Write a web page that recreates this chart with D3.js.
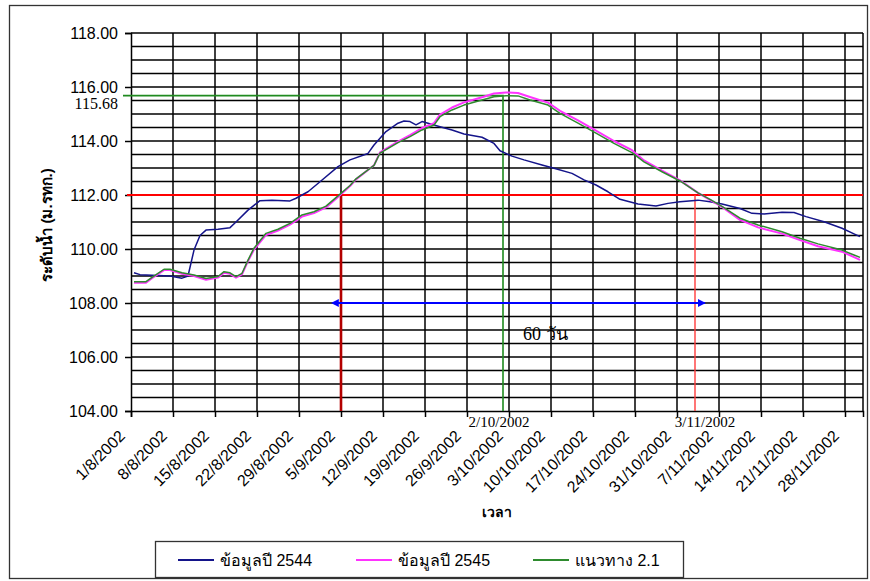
<!DOCTYPE html>
<html>
<head>
<meta charset="utf-8">
<script src="https://cdn.jsdelivr.net/npm/d3@7"></script>
<style>
  body { margin: 0; background: #fff; }
  svg { display: block; }
  .sans { font-family: "Liberation Sans", Arial, "Noto Sans", sans-serif; }
  .serif { font-family: "Liberation Serif", "Times New Roman", serif; }
</style>
</head>
<body>
<svg id="chart" width="870" height="581"></svg>
<script>
// Reservoir water level (m. MSL), 1 Aug – 30 Nov 2002

const xTickLabels = ["1/8/2002", "8/8/2002", "15/8/2002", "22/8/2002", "29/8/2002", "5/9/2002",
  "12/9/2002", "19/9/2002", "26/9/2002", "3/10/2002", "10/10/2002", "17/10/2002", "24/10/2002",
  "31/10/2002", "7/11/2002", "14/11/2002", "21/11/2002", "28/11/2002"];
const yTickValues = [104, 106, 108, 110, 112, 114, 116, 118];

// Series "ข้อมูลปี 2544"
const dates2544 = ["1/8", "2/8", "3/8", "5/8", "7/8", "9/8", "10/8", "11/8", "12/8", "13/8", "15/8", "17/8",
  "18/8", "20/8", "22/8", "24/8", "27/8", "28/8", "30/8", "1/9", "4/9", "6/9", "9/9", "10/9", "12/9",
  "14/9", "15/9", "16/9", "17/9", "18/9", "19/9", "21/9", "23/9", "25/9", "28/9", "30/9", "1/10", "3/10",
  "5/10", "8/10", "10/10", "13/10", "15/10", "17/10", "19/10", "21/10", "24/10", "27/10", "29/10",
  "31/10", "3/11", "5/11", "7/11", "10/11", "12/11", "14/11", "17/11", "19/11", "21/11", "24/11",
  "27/11", "29/11", "30/11"];
const level2544 = [109.12, 109.05, 109.04, 109.02, 109.00, 108.92, 109.00, 109.96, 110.50, 110.70, 110.73,
  110.79, 111.00, 111.44, 111.79, 111.81, 111.78, 111.88, 112.12, 112.49, 113.05, 113.30, 113.54, 113.85,
  114.35, 114.66, 114.74, 114.72, 114.60, 114.72, 114.66, 114.53, 114.41, 114.26, 114.14, 113.91, 113.64,
  113.44, 113.30, 113.11, 112.99, 112.80, 112.56, 112.37, 112.12, 111.84, 111.67, 111.59, 111.69, 111.75,
  111.81, 111.75, 111.67, 111.50, 111.32, 111.30, 111.36, 111.35, 111.20, 111.01, 110.77, 110.56, 110.46];

// Series "ข้อมูลปี 2545" and "แนวทาง 2.1" share the same dates
const dates2545 = ["1/8", "3/8", "4/8", "6/8", "7/8", "9/8", "11/8", "13/8", "15/8", "16/8", "17/8", "18/8",
  "19/8", "20/8", "21/8", "23/8", "25/8", "27/8", "29/8", "31/8", "2/9", "4/9", "6/9", "7/9", "10/9",
  "11/9", "14/9", "16/9", "18/9", "20/9", "21/9", "23/9", "25/9", "28/9", "30/9", "2/10", "4/10", "6/10",
  "9/10", "11/10", "14/10", "17/10", "20/10", "23/10", "25/10", "28/10", "31/10", "3/11", "5/11", "7/11",
  "10/11", "13/11", "17/11", "20/11", "23/11", "27/11", "29/11", "30/11"];
const level2545 = [108.75, 108.75, 108.92, 109.22, 109.22, 109.08, 109.00, 108.86, 108.94, 109.12, 109.08,
  108.94, 109.06, 109.55, 109.98, 110.52, 110.68, 110.90, 111.20, 111.33, 111.54, 111.93, 112.33, 112.58,
  113.10, 113.58, 113.98, 114.22, 114.48, 114.66, 114.98, 115.24, 115.43, 115.62, 115.76, 115.80, 115.78,
  115.63, 115.42, 115.12, 114.76, 114.38, 114.00, 113.66, 113.28, 112.90, 112.54, 112.08, 111.82, 111.56,
  111.08, 110.80, 110.57, 110.33, 110.10, 109.90, 109.70, 109.60];
const levelGuide = [108.79, 108.79, 108.95, 109.25, 109.25, 109.12, 109.04, 108.91, 108.98, 109.16, 109.12,
  108.98, 109.10, 109.59, 110.03, 110.58, 110.73, 110.95, 111.26, 111.38, 111.59, 111.97, 112.35, 112.60,
  113.10, 113.55, 113.94, 114.16, 114.41, 114.59, 114.90, 115.15, 115.33, 115.52, 115.64, 115.68, 115.67,
  115.52, 115.33, 115.02, 114.66, 114.29, 113.91, 113.57, 113.23, 112.86, 112.52, 112.08, 111.84, 111.58,
  111.14, 110.89, 110.64, 110.40, 110.19, 109.96, 109.78, 109.69];

const seriesNames = ["ข้อมูลปี 2544", "ข้อมูลปี 2545", "แนวทาง 2.1"];
const seriesColors = ["#14148a", "#ff33ff", "#2e8b2e"];

// Reference marks
const thresholdLevel = 112;            // red horizontal line
const peakLevel = 115.68;              // guide peak level
const peakDate = "2/10/2002";
const startDate = "5/9/2002";          // level reaches 112 m.
const endDate = "3/11/2002";           // level falls back to 112 m.
const spanDays = 60;
const arrowLevel = 108;

const parse = d3.utcParse("%d/%m/%Y");
const parseDay = s => parse(s + "/2002");

const svg = d3.select("#chart");
const plotLeft = 131, plotRight = 863, plotTop = 33, plotBottom = 411;

const x = d3.scaleUtc()
  .domain([parse("1/8/2002"), parse("1/12/2002")])
  .range([plotLeft, plotRight]);
const y = d3.scaleLinear().domain([104, 118]).range([plotBottom, plotTop]);
// daily values sit in the middle of each day's slot
const xd = d => x(d3.utcHour.offset(d, 12));

// outer frame
svg.append("rect").attr("x", 9.5).attr("y", 5.5).attr("width", 858).attr("height", 573)
  .attr("fill", "#fff").attr("stroke", "#333").attr("stroke-width", 1.3);

// grid
const grid = svg.append("g").attr("stroke", "#000").attr("stroke-width", 1.5);
grid.selectAll("line.h").data(d3.range(104.5, 118.01, 0.5)).join("line")
  .attr("x1", plotLeft).attr("x2", plotRight).attr("y1", d => y(d)).attr("y2", d => y(d));
const tickDates = xTickLabels.map(parse);
grid.selectAll("line.v").data(tickDates.slice(1).concat([x.domain()[1]])).join("line")
  .attr("x1", d => x(d)).attr("x2", d => x(d)).attr("y1", plotTop).attr("y2", plotBottom);

// y axis
const yAxis = svg.append("g").attr("transform", `translate(${plotLeft},0)`)
  .call(d3.axisLeft(y).tickValues(yTickValues).tickFormat(d3.format(".2f")).tickSize(6).tickPadding(7));
yAxis.select(".domain").attr("stroke", "#000").attr("stroke-width", 1.5);
yAxis.selectAll(".tick line").attr("stroke", "#000").attr("stroke-width", 1.5);
yAxis.selectAll("text").attr("class", "sans").attr("font-size", 16).attr("fill", "#000");

// x axis
const xAxis = svg.append("g").attr("transform", `translate(0,${plotBottom})`)
  .call(d3.axisBottom(x).tickValues(tickDates).tickFormat("").tickSize(6));
xAxis.select(".domain").attr("stroke", "#000").attr("stroke-width", 1.5);
xAxis.selectAll(".tick line").attr("stroke", "#000").attr("stroke-width", 1.5);
svg.append("g").selectAll("text").data(xTickLabels).join("text")
  .attr("class", "sans").attr("font-size", 16).attr("text-anchor", "end")
  .attr("transform", d => `translate(${x(parse(d)) - 5},${plotBottom + 26}) rotate(-45)`)
  .text(d => d);

// reference lines
const peakX = x(parse(peakDate));
svg.append("polyline")
  .attr("points", [[123, y(peakLevel)], [peakX, y(peakLevel)], [peakX, plotBottom]].join(" "))
  .attr("fill", "none").attr("stroke", "#1f8a1f").attr("stroke-width", 1.6);
svg.append("line").attr("x1", 127).attr("x2", plotRight)
  .attr("y1", y(thresholdLevel)).attr("y2", y(thresholdLevel))
  .attr("stroke", "#ff0000").attr("stroke-width", 2.2);
svg.append("line").attr("x1", x(parse(startDate))).attr("x2", x(parse(startDate)))
  .attr("y1", y(thresholdLevel)).attr("y2", plotBottom)
  .attr("stroke", "#b30000").attr("stroke-width", 2.6);
svg.append("line").attr("x1", x(parse(endDate))).attr("x2", x(parse(endDate)))
  .attr("y1", y(thresholdLevel)).attr("y2", plotBottom)
  .attr("stroke", "#ff3b3b").attr("stroke-width", 1.4);

// series lines
const line = d3.line().x(d => xd(d.date)).y(d => y(d.v));
const series = [
  dates2544.map((d, i) => ({ date: parseDay(d), v: level2544[i] })),
  dates2545.map((d, i) => ({ date: parseDay(d), v: level2545[i] })),
  dates2545.map((d, i) => ({ date: parseDay(d), v: levelGuide[i] }))
];
const widths = [1.5, 2, 1.5];
series.forEach((s, i) => {
  svg.append("path").datum(s).attr("d", line)
    .attr("fill", "none").attr("stroke", seriesColors[i]).attr("stroke-width", widths[i])
    .attr("stroke-linejoin", "round");
});

// 60-day span arrow
const defs = svg.append("defs");
["start", "end"].forEach(k => {
  defs.append("marker").attr("id", "arrow-" + k)
    .attr("viewBox", "0 0 10 10").attr("refX", k === "end" ? 9 : 1).attr("refY", 5)
    .attr("markerWidth", 4).attr("markerHeight", 4).attr("orient", "auto-start-reverse")
    .append("path").attr("d", "M0,0 L10,5 L0,10 Z").attr("fill", "#0000ff");
});
const spanStart = parse(startDate);
const spanEnd = d3.utcDay.offset(spanStart, spanDays);
svg.append("line")
  .attr("x1", x(spanStart) - 3).attr("x2", x(spanEnd) + 4)
  .attr("y1", y(arrowLevel)).attr("y2", y(arrowLevel))
  .attr("stroke", "#0000ff").attr("stroke-width", 2)
  .attr("marker-start", "url(#arrow-start)").attr("marker-end", "url(#arrow-end)");
svg.append("text").attr("class", "serif").attr("font-size", 18)
  .attr("x", 523).attr("y", 340).text(spanDays + "  วัน");

// annotation labels
svg.append("text").attr("class", "serif").attr("font-size", 16).attr("text-anchor", "end")
  .attr("x", 118).attr("y", y(peakLevel) + 13).text(peakLevel.toFixed(2));
svg.append("text").attr("class", "serif").attr("font-size", 15).attr("text-anchor", "middle")
  .attr("x", peakX - 4).attr("y", plotBottom + 16).text(peakDate);
svg.append("text").attr("class", "serif").attr("font-size", 15).attr("text-anchor", "middle")
  .attr("x", x(parse(endDate)) + 10).attr("y", plotBottom + 16).text(endDate);

// axis titles
svg.append("text").attr("class", "sans").attr("font-size", 15).attr("font-weight", "bold")
  .attr("text-anchor", "middle").attr("transform", `translate(52,225) rotate(-90)`)
  .text("ระดับน้ำ (ม.รทก.)");
svg.append("text").attr("class", "sans").attr("font-size", 14).attr("font-weight", "bold")
  .attr("text-anchor", "middle").attr("x", 497).attr("y", 517).text("เวลา");

// legend
const lg = svg.append("g");
lg.append("rect").attr("x", 155.5).attr("y", 541.5).attr("width", 528).attr("height", 36)
  .attr("fill", "#fff").attr("stroke", "#333").attr("stroke-width", 1.3);
const legendX = [178, 356, 533];
seriesNames.forEach((n, i) => {
  lg.append("line").attr("x1", legendX[i]).attr("x2", legendX[i] + 36).attr("y1", 560).attr("y2", 560)
    .attr("stroke", seriesColors[i]).attr("stroke-width", 2);
  lg.append("text").attr("class", "sans").attr("font-size", 16).attr("x", legendX[i] + 42).attr("y", 566)
    .text(n);
});
</script>
</body>
</html>
